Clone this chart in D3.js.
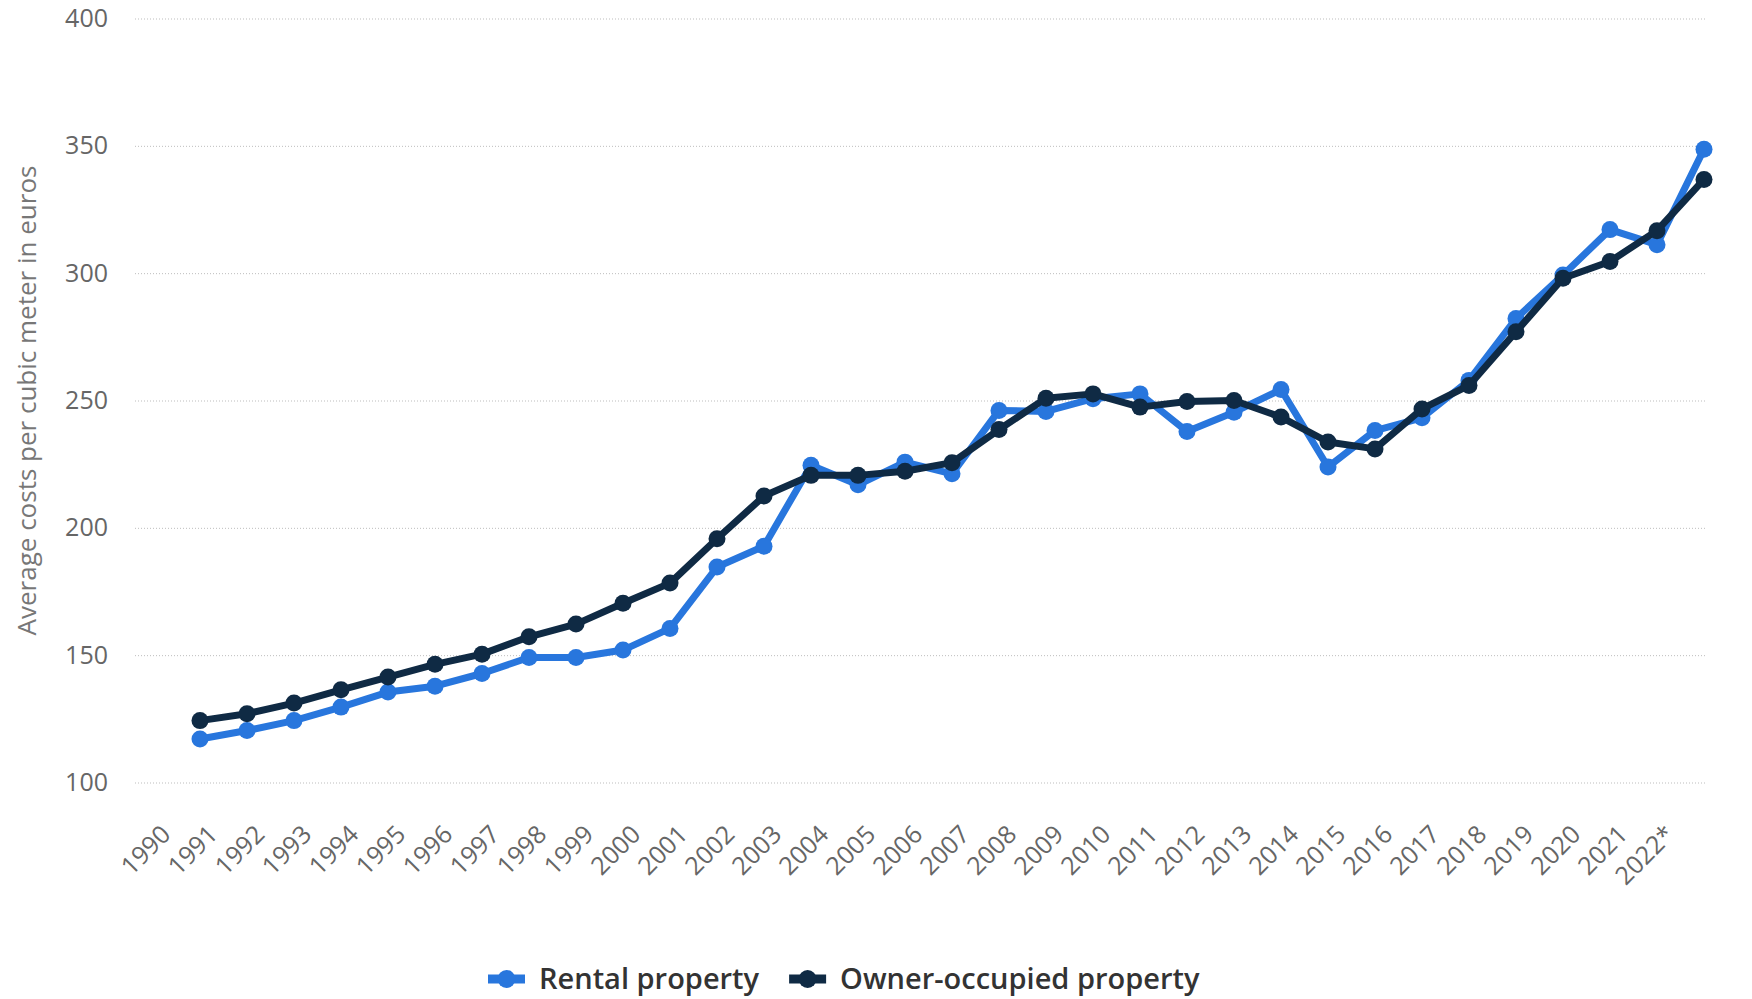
<!DOCTYPE html>
<html>
<head>
<meta charset="utf-8">
<script src="https://cdn.jsdelivr.net/npm/d3@7"></script>
<style>
  body { margin: 0; background: #fff; }
  svg text { font-family: "Open Sans", sans-serif; }
</style>
</head>
<body>
<div id="chart"></div>
<script>
// categories (last year is preliminary)
var years = ["1990", "1991", "1992", "1993", "1994", "1995", "1996", "1997", "1998", "1999",
  "2000", "2001", "2002", "2003", "2004", "2005", "2006", "2007", "2008", "2009",
  "2010", "2011", "2012", "2013", "2014", "2015", "2016", "2017", "2018", "2019",
  "2020", "2021", "2022*"];

// average costs per cubic meter, euros
var rental = [117.1, 120.4, 124.3, 129.6, 135.5, 137.8, 142.8, 149.1, 149.1, 152.0,
  160.5, 184.6, 192.8, 224.6, 216.9, 225.8, 221.2, 246.1, 245.7, 250.7,
  252.6, 237.8, 245.4, 254.3, 223.9, 238.2, 243.2, 257.9, 282.2, 299.3,
  317.1, 311.2, 348.7];
var owner = [124.3, 127.0, 131.2, 136.4, 141.4, 146.4, 150.4, 157.2, 162.2, 170.4,
  178.3, 195.7, 212.5, 220.6, 220.6, 222.2, 225.6, 238.6, 250.9, 252.6,
  247.4, 249.6, 250.0, 243.5, 233.7, 231.0, 246.7, 255.9, 277.0, 298.0,
  304.6, 316.7, 336.8];

var seriesNames = ["Rental property", "Owner-occupied property"];
var seriesColors = ["#2876dd", "#0f2a44"];
var yTicks = [100, 150, 200, 250, 300, 350, 400];
var yTitle = "Average costs per cubic meter in euros";

var width = 1752,
  height = 999,
  plot = { left: 135, right: 1705, top: 18.5, bottom: 782.5 };

var svg = d3.select("#chart").append("svg")
  .attr("width", width)
  .attr("height", height);

var x = d3.scalePoint()
  .domain(years)
  .range([200, 1704]);

var y = d3.scaleLinear()
  .domain([100, 400])
  .range([plot.bottom, plot.top]);

// grid lines + y labels
var yAxis = svg.append("g")
  .attr("transform", "translate(" + plot.left + ",0)")
  .call(d3.axisLeft(y)
    .tickValues(yTicks)
    .tickSize(-(plot.right - plot.left))
    .tickPadding(27));

yAxis.attr("font-family", null).attr("font-size", null);
yAxis.select(".domain").remove();
yAxis.selectAll(".tick line")
  .attr("stroke", "#bdbdbd")
  .attr("stroke-dasharray", "1,2");
yAxis.selectAll(".tick text")
  .attr("fill", "#666")
  .style("font-size", "25px");

// x labels, rotated
svg.append("g").selectAll("text")
  .data(years)
  .enter().append("text")
  .attr("transform", function(d) {
    return "translate(" + (x(d) - 28) + ",836) rotate(-45)";
  })
  .attr("text-anchor", "end")
  .attr("fill", "#666")
  .style("font-size", "25px")
  .text(function(d) { return d; });

// y title
svg.append("text")
  .attr("transform", "translate(27," + ((plot.top + plot.bottom) / 2) + ") rotate(-90)")
  .attr("dy", "0.35em")
  .attr("text-anchor", "middle")
  .attr("fill", "#777")
  .style("font-size", "26px")
  .text(yTitle);

// series
var series = [rental, owner];
var line = d3.line()
  .x(function(d, i) { return x(years[i]); })
  .y(function(d) { return y(d); });

series.forEach(function(values, s) {
  var g = svg.append("g");
  g.append("path")
    .datum(values)
    .attr("fill", "none")
    .attr("stroke", seriesColors[s])
    .attr("stroke-width", 7)
    .attr("stroke-linejoin", "round")
    .attr("d", line);
  g.selectAll("circle")
    .data(values)
    .enter().append("circle")
    .attr("cx", function(d, i) { return x(years[i]); })
    .attr("cy", function(d) { return y(d); })
    .attr("r", 8.5)
    .attr("fill", seriesColors[s]);
});

// legend
var legend = svg.append("g").attr("transform", "translate(488,979)");
var lx = 0;
seriesNames.forEach(function(name, s) {
  var item = legend.append("g").attr("transform", "translate(" + lx + ",0)");
  item.append("line")
    .attr("x1", 0).attr("x2", 37)
    .attr("stroke", seriesColors[s])
    .attr("stroke-width", 9);
  item.append("circle")
    .attr("cx", 18.5)
    .attr("r", 9)
    .attr("fill", seriesColors[s]);
  var t = item.append("text")
    .attr("x", 51)
    .attr("dy", "0.35em")
    .attr("fill", "#333")
    .style("font-size", "29px")
    .style("font-weight", 600)
    .text(name);
  lx += 51 + t.node().getComputedTextLength() + 30;
});
</script>
</body>
</html>
